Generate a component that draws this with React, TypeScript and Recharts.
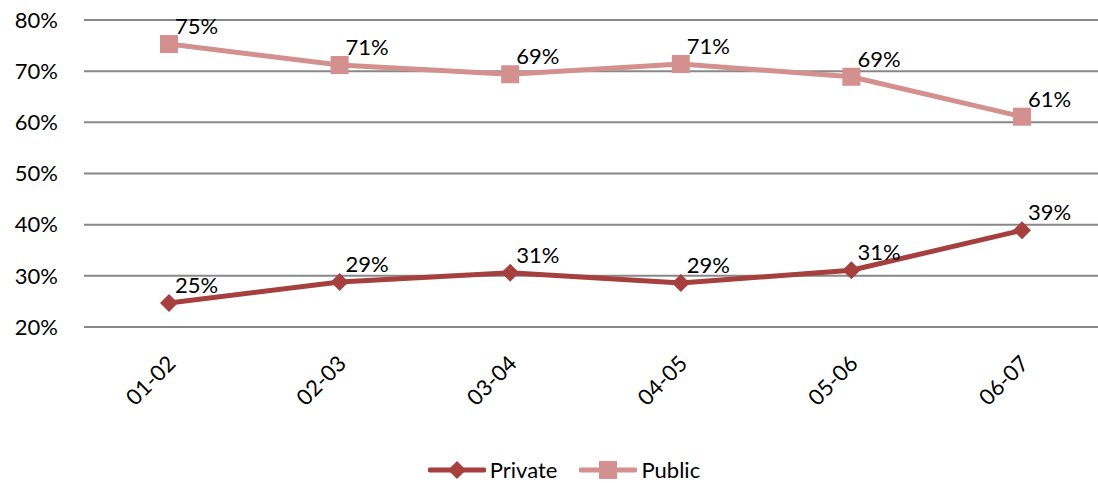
import React from 'react';
import { LineChart, Line, XAxis, YAxis, CartesianGrid, Legend } from 'recharts';

const years = ['01-02', '02-03', '03-04', '04-05', '05-06', '06-07'];
const privateShare = [24.7, 28.8, 30.6, 28.6, 31.1, 38.9];
const publicShare = [75.3, 71.2, 69.4, 71.4, 68.9, 61.1];
const yTicks = [20, 30, 40, 50, 60, 70, 80];

const data = years.map((year, i) => ({
  year,
  private: privateShare[i],
  public: publicShare[i],
}));

const FONT = 'Lato, "Open Sans", sans-serif';
const PRIVATE_COLOR = '#A5403E';
const PUBLIC_COLOR = '#D4908E';

const Diamond = (props: any) => {
  const { cx, cy } = props;
  if (cx == null || cy == null) return null;
  const r = 9;
  return (
    <path
      d={`M${cx},${cy - r} L${cx + r},${cy} L${cx},${cy + r} L${cx - r},${cy} Z`}
      fill={PRIVATE_COLOR}
    />
  );
};

const Square = (props: any) => {
  const { cx, cy } = props;
  if (cx == null || cy == null) return null;
  const s = 9;
  return <rect x={cx - s} y={cy - s} width={s * 2} height={s * 2} fill={PUBLIC_COLOR} />;
};

const PointLabel = (props: any) => {
  const { x, y, value } = props;
  return (
    <text x={x + 6} y={y - 10} fontSize={22} fontFamily={FONT} fill="#000">
      {`${Math.round(value)}%`}
    </text>
  );
};

const XTick = (props: any) => {
  const { x, y, payload } = props;
  const ax = x + 8;
  const ay = y + 30;
  return (
    <text
      x={ax}
      y={ay}
      fontSize={22}
      fontFamily={FONT}
      fill="#000"
      textAnchor="end"
      transform={`rotate(-45, ${ax}, ${ay})`}
    >
      {payload.value}
    </text>
  );
};

const renderLegend = () => (
  <div style={{ display: 'flex', justifyContent: 'center', fontFamily: FONT, fontSize: 22, gap: 22, paddingLeft: 30 }}>
    <div style={{ display: 'flex', alignItems: 'center' }}>
      <svg width={58} height={20}>
        <line x1={2} y1={10} x2={56} y2={10} stroke={PRIVATE_COLOR} strokeWidth={5} strokeLinecap="round" />
        <path d="M29,1 L38,10 L29,19 L20,10 Z" fill={PRIVATE_COLOR} />
      </svg>
      <span style={{ marginLeft: 4 }}>Private</span>
    </div>
    <div style={{ display: 'flex', alignItems: 'center' }}>
      <svg width={58} height={20}>
        <line x1={2} y1={10} x2={56} y2={10} stroke={PUBLIC_COLOR} strokeWidth={5} strokeLinecap="round" />
        <rect x={20} y={1} width={18} height={18} fill={PUBLIC_COLOR} />
      </svg>
      <span style={{ marginLeft: 4 }}>Public</span>
    </div>
  </div>
);

export default function App() {
  return (
    <div style={{ position: 'fixed', left: 0, top: 0, width: 1098, height: 483, overflow: 'hidden', background: '#fff' }}>
      <LineChart width={1110} height={483} data={data} margin={{ top: 20, right: 3, left: 0, bottom: 0 }}>
        <CartesianGrid vertical={false} stroke="#888" strokeWidth={2} />
        <XAxis
          dataKey="year"
          axisLine={false}
          tickLine={false}
          tick={<XTick />}
          height={129}
          interval={0}
          padding={{ left: 85, right: 85 }}
        />
        <YAxis
          domain={[20, 80]}
          ticks={yTicks}
          width={84}
          axisLine={false}
          tickLine={false}
          tick={{ fontSize: 22, fontFamily: FONT, fill: '#000' }}
          tickFormatter={(v) => `${v}%`}
          tickMargin={20}
        />
        <Legend verticalAlign="bottom" content={renderLegend} wrapperStyle={{ left: 0, width: 1098, bottom: 0 }} />
        <Line
          dataKey="private"
          name="Private"
          stroke={PRIVATE_COLOR}
          strokeWidth={5}
          dot={<Diamond />}
          activeDot={false}
          label={<PointLabel />}
          isAnimationActive={false}
        />
        <Line
          dataKey="public"
          name="Public"
          stroke={PUBLIC_COLOR}
          strokeWidth={5}
          dot={<Square />}
          activeDot={false}
          label={<PointLabel />}
          isAnimationActive={false}
        />
      </LineChart>
    </div>
  );
}
